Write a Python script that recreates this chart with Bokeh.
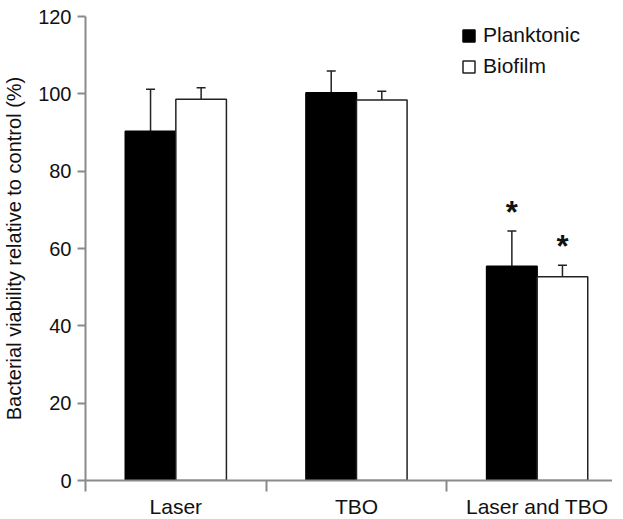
from bokeh.plotting import figure
from bokeh.models import (Range1d, FixedTicker, Whisker, TeeHead, ColumnDataSource,
                          Legend, LegendItem)
from bokeh.core.properties import value
from bokeh.embed import file_html
from bokeh.resources import INLINE

categories = ["Laser", "TBO", "Laser and TBO"]
planktonic = [90.3, 100.3, 55.4]
planktonic_err = [10.9, 5.6, 9.1]
biofilm = [98.6, 98.4, 52.7]
biofilm_err = [3.0, 2.3, 3.0]
significant_planktonic = [False, False, True]
significant_biofilm = [False, False, True]
y_ticks = [0, 20, 40, 60, 80, 100, 120]

FONT = "Liberation Sans"
AXIS_COLOR = "#8a8a8a"
BAR_W = 0.28

centers = [i + 0.5 for i in range(len(categories))]
xp = [c - BAR_W / 2 for c in centers]
xb = [c + BAR_W / 2 for c in centers]

p = figure(frame_width=527, frame_height=464, output_backend="svg", toolbar_location=None,
           x_range=Range1d(0, 2.917), y_range=Range1d(0, 120),
           min_border_left=80, min_border_right=0, min_border_top=16, min_border_bottom=30)
p.outline_line_color = None
p.grid.visible = False
p.background_fill_color = "white"
p.border_fill_color = "white"

src_p = ColumnDataSource(dict(x=xp, top=planktonic, up=[v + e for v, e in zip(planktonic, planktonic_err)]))
src_b = ColumnDataSource(dict(x=xb, top=biofilm, up=[v + e for v, e in zip(biofilm, biofilm_err)]))

rp = p.vbar(x="x", top="top", width=BAR_W, source=src_p, fill_color="black",
            line_color="black", line_width=1.5)
rb = p.vbar(x="x", top="top", width=BAR_W, source=src_b, fill_color="white",
            line_color="#222222", line_width=1.5)

for src in (src_p, src_b):
    w = Whisker(base="x", lower="top", upper="up", source=src,
                line_color="#222222", line_width=1.5,
                upper_head=TeeHead(size=9, line_color="#222222", line_width=1.5),
                lower_head=None)
    p.add_layout(w)

# significance stars
sx, sy = [], []
for i in range(len(categories)):
    if significant_planktonic[i]:
        sx.append(xp[i]); sy.append(planktonic[i] + planktonic_err[i])
    if significant_biofilm[i]:
        sx.append(xb[i]); sy.append(biofilm[i] + biofilm_err[i])
p.text(x=sx, y=sy, text=["*"] * len(sx), text_align="center", text_baseline="alphabetic",
       y_offset=-19, text_font=value(FONT), text_font_size="31px", text_font_style="bold",
       text_color="#111111")

# axes
xa = p.xaxis[0]
xa.ticker = FixedTicker(ticks=centers, minor_ticks=[0, 1, 2, 3])
xa.major_label_overrides = {c: n for c, n in zip(centers, categories)}
xa.major_tick_out = 0
xa.major_tick_in = 0
xa.minor_tick_out = 11
xa.minor_tick_in = 0
xa.minor_tick_line_color = AXIS_COLOR
xa.minor_tick_line_width = 2
xa.axis_line_color = AXIS_COLOR
xa.axis_line_width = 2
xa.major_label_standoff = 3
xa.major_label_text_font = FONT
xa.major_label_text_font_size = "21px"
xa.major_label_text_color = "#111111"

ya = p.yaxis[0]
ya.ticker = FixedTicker(ticks=y_ticks)
ya.minor_tick_line_color = None
ya.major_tick_out = 8
ya.major_tick_in = 0
ya.major_tick_line_color = AXIS_COLOR
ya.major_tick_line_width = 2
ya.axis_line_color = AXIS_COLOR
ya.axis_line_width = 2
ya.major_label_standoff = 6
ya.major_label_text_font = FONT
ya.major_label_text_font_size = "20px"
ya.major_label_text_color = "#111111"
ya.axis_label = "Bacterial viability relative to control (%)"
ya.axis_label_text_font = FONT
ya.axis_label_text_font_size = "20px"
ya.axis_label_text_font_style = "normal"
ya.axis_label_text_color = "#111111"
ya.axis_label_standoff = 10

legend = Legend(items=[LegendItem(label="Planktonic", renderers=[rp]),
                       LegendItem(label="Biofilm", renderers=[rb])],
                location=(376, 402), padding=0, margin=0, spacing=7,
                glyph_width=15, glyph_height=15, label_standoff=7,
                label_text_font=FONT, label_text_font_size="21px",
                label_text_color="#111111", border_line_color=None,
                background_fill_alpha=0)
p.add_layout(legend)

open("out.html", "w").write(file_html(p, INLINE))
